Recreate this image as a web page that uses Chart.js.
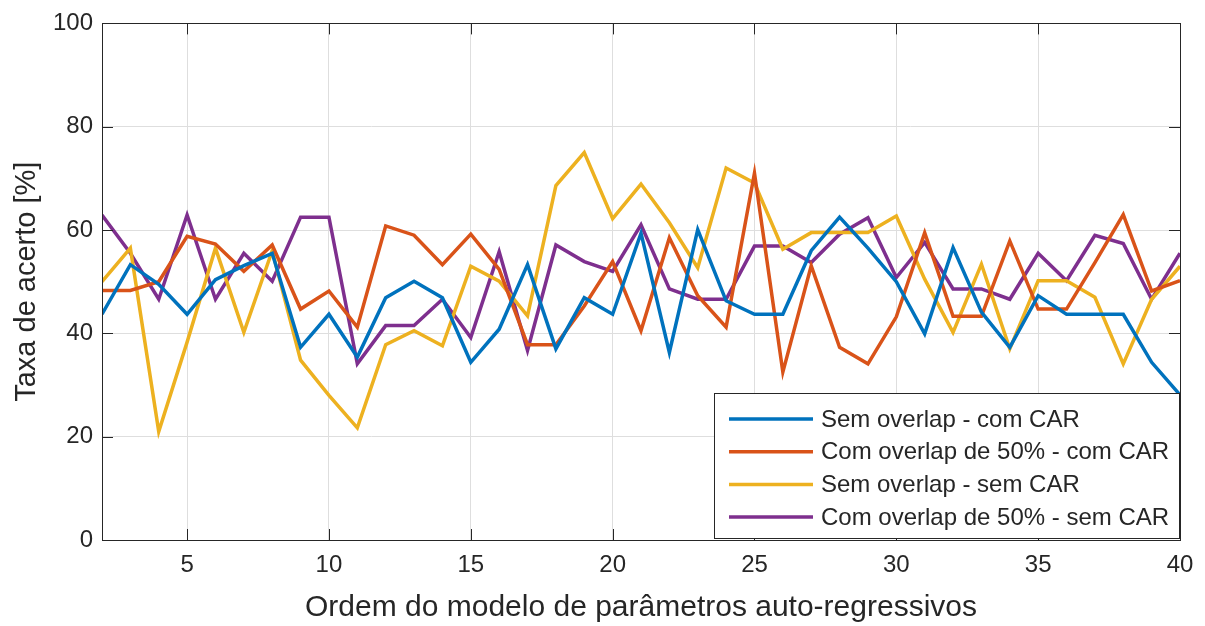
<!DOCTYPE html>
<html>
<head>
<meta charset="utf-8">
<script src="https://cdn.jsdelivr.net/npm/chart.js@4"></script>
<style>
  html, body { margin: 0; padding: 0; background: #fff; }
</style>
</head>
<body>
<canvas id="chart" width="1205" height="626"></canvas>
<script>
// ordem do modelo AR (eixo x)
const ordem = [2,3,4,5,6,7,8,9,10,11,12,13,14,15,16,17,18,19,20,21,22,23,24,25,26,27,28,29,30,31,32,33,34,35,36,37,38,39,40];

// taxa de acerto [%] de cada configuracao
const semOverlapComCAR = [43.7,53.3,49.5,43.7,50.4,53.1,55.5,37.3,43.7,35.4,46.9,50.1,46.9,34.4,40.8,53.3,37.0,46.9,43.7,59.4,36.3,60.1,46.3,43.7,43.7,56.0,62.5,56.5,50.0,39.9,56.6,44.1,37.3,47.3,43.7,43.7,43.7,34.4,28.1];
const comOverlapComCAR = [48.3,48.3,50.0,58.8,57.3,52.0,57.1,44.7,48.2,41.2,60.8,59.0,53.3,59.2,52.4,37.8,37.8,45.3,53.9,40.5,58.5,47.3,41.2,71.0,32.5,53.1,37.3,34.1,43.2,59.5,43.3,43.3,57.9,44.7,44.7,53.7,63.0,48.2,50.2];
const semOverlapSemCAR = [50.0,56.5,21.0,38.3,56.5,40.2,56.0,34.8,28.0,21.7,37.8,40.5,37.6,53.0,50.1,43.4,68.6,75.0,62.2,68.9,61.4,52.7,72.0,69.1,56.3,59.5,59.5,59.5,62.7,50.5,40.2,53.4,37.0,50.2,50.2,47.0,34.1,46.6,53.0];
const comOverlapSemCAR = [62.9,55.5,46.6,62.9,46.6,55.5,50.1,62.5,62.5,34.1,41.5,41.5,46.6,39.2,55.8,36.7,57.1,53.9,52.0,61.0,48.6,46.6,46.6,56.9,56.9,53.7,59.2,62.4,50.8,57.6,48.6,48.6,46.6,55.5,50.2,59.0,57.4,46.6,55.5];

const xTicks = [5,10,15,20,25,30,35,40];
const yTicks = [0,20,40,60,80,100];

const series = [
  { label: 'Sem overlap - com CAR', data: semOverlapComCAR, color: '#0072BD' },
  { label: 'Com overlap de 50% - com CAR', data: comOverlapComCAR, color: '#D95319' },
  { label: 'Sem overlap - sem CAR', data: semOverlapSemCAR, color: '#EDB120' },
  { label: 'Com overlap de 50% - sem CAR', data: comOverlapSemCAR, color: '#7E2F8E' }
];

const FONT = '"Liberation Sans", Arial, Helvetica, sans-serif';
const INK = '#262626';

// moldura, ticks internos e legenda no estilo MATLAB
const matlabBox = {
  id: 'matlabBox',
  afterDraw(chart) {
    const ctx = chart.ctx;
    const a = chart.chartArea;
    const xs = chart.scales.x, ys = chart.scales.y;
    const tl = 11;
    ctx.save();
    ctx.strokeStyle = INK;
    ctx.lineWidth = 1;
    ctx.beginPath();
    xTicks.forEach(v => {
      const px = Math.round(xs.getPixelForValue(v)) + 0.5;
      ctx.moveTo(px, a.bottom); ctx.lineTo(px, a.bottom - tl);
      ctx.moveTo(px, a.top); ctx.lineTo(px, a.top + tl);
    });
    yTicks.forEach(v => {
      const py = Math.round(ys.getPixelForValue(v)) + 0.5;
      ctx.moveTo(a.left, py); ctx.lineTo(a.left + tl, py);
      ctx.moveTo(a.right, py); ctx.lineTo(a.right - tl, py);
    });
    ctx.stroke();
    ctx.strokeRect(Math.round(a.left) + 0.5, Math.round(a.top) + 0.5,
                   Math.round(a.right - a.left), Math.round(a.bottom - a.top));

    // legenda
    const lx = 714, ly = 393, lw = 465, lh = 145;
    ctx.fillStyle = '#fff';
    ctx.fillRect(lx, ly, lw, lh);
    ctx.strokeRect(lx + 0.5, ly + 0.5, lw, lh);
    ctx.font = '24px ' + FONT;
    ctx.textBaseline = 'middle';
    series.forEach((s, i) => {
      const y = ly + 26 + i * 32.7;
      ctx.strokeStyle = s.color;
      ctx.lineWidth = 3.5;
      ctx.beginPath();
      ctx.moveTo(729, y); ctx.lineTo(813, y);
      ctx.stroke();
      ctx.fillStyle = INK;
      ctx.fillText(s.label, 821, y + 1);
    });
    ctx.restore();
  }
};

new Chart(document.getElementById('chart'), {
  type: 'line',
  data: {
    datasets: series.map(s => ({
      label: s.label,
      data: ordem.map((x, i) => ({ x: x, y: s.data[i] })),
      borderColor: s.color,
      backgroundColor: s.color,
      borderWidth: 3.5,
      pointRadius: 0,
      tension: 0
    }))
  },
  options: {
    responsive: false,
    animation: false,
    layout: { padding: { top: 20, right: 25, left: 0, bottom: 0 } },
    plugins: { legend: { display: false }, tooltip: { enabled: false } },
    scales: {
      x: {
        type: 'linear',
        min: 2, max: 40,
        afterBuildTicks: s => { s.ticks = xTicks.map(v => ({ value: v })); },
        afterFit: s => { s.height = 86; },
        grid: { color: '#dedede', drawTicks: false },
        border: { display: false },
        ticks: { padding: 11, color: INK, font: { family: FONT, size: 24 } },
        title: {
          display: true,
          text: 'Ordem do modelo de parâmetros auto-regressivos',
          color: INK,
          font: { family: FONT, size: 30 },
          padding: { top: 0, bottom: 0 }
        }
      },
      y: {
        min: 0, max: 100,
        afterBuildTicks: s => { s.ticks = yTicks.map(v => ({ value: v })); },
        afterFit: s => { s.width = 102; },
        grid: { color: '#dedede', drawTicks: false },
        border: { display: false },
        ticks: { padding: 9, color: INK, font: { family: FONT, size: 24 } },
        title: {
          display: true,
          text: 'Taxa de acerto [%]',
          color: INK,
          font: { family: FONT, size: 29 },
          padding: { top: 10, bottom: 0 }
        }
      }
    }
  },
  plugins: [matlabBox]
});
</script>
</body>
</html>
